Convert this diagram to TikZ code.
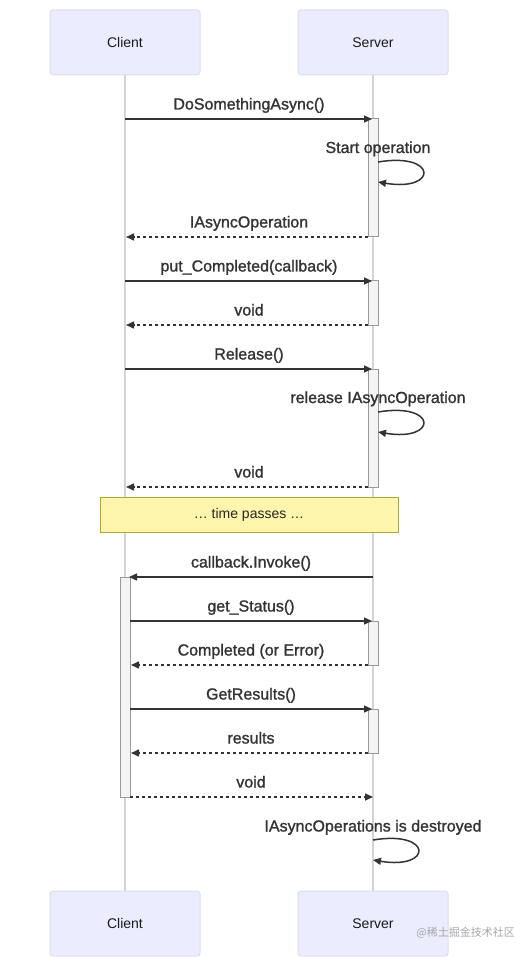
\documentclass[tikz,border=0pt]{standalone}
\usepackage{fontspec}
\setmainfont{Liberation Sans}
\newfontfamily\msgfont{Liberation Sans}[FakeBold=1.3]
\newfontfamily\cjk{Noto Sans CJK SC}
\usetikzlibrary{arrows.meta}
\definecolor{actfill}{HTML}{ECECFF}
\definecolor{actline}{HTML}{DCDCF2}
\definecolor{lifecol}{HTML}{D4D4D4}
\definecolor{msgcol}{HTML}{333333}
\definecolor{actvfill}{HTML}{F4F4F4}
\definecolor{actvline}{HTML}{999999}
\definecolor{notefill}{HTML}{FFF5AD}
\definecolor{noteline}{HTML}{AAAA33}
\tikzset{
  actor/.style={draw=actline, fill=actfill, line width=1pt, rounded corners=3pt,
    minimum width=150pt, minimum height=65pt, inner sep=0pt,
    font=\fontsize{14}{16}\selectfont, text=black!90},
  lifeline/.style={draw=lifecol, line width=1.5pt},
  msg/.style={draw=msgcol, line width=1.5pt, -{Triangle[length=8pt,width=7pt]}},
  ret/.style={msg, dash pattern=on 3pt off 3pt},
  lbl/.style={font=\msgfont\fontsize{16}{19}\selectfont, text=msgcol, anchor=base, inner sep=0pt},
  activ/.style={draw=actvline, fill=actvfill, line width=1pt},
  notebox/.style={draw=noteline, fill=notefill, line width=1pt, minimum width=298pt,
    minimum height=35pt, inner sep=0pt, font=\fontsize{14}{16}\selectfont, text=black!85},
}
\begin{document}
\begin{tikzpicture}[x=1pt,y=-1pt]
\useasboundingbox (0,0) rectangle (531,957);
% actors
\node[actor] (ct) at (125,42.5) {Client};
\node[actor] (st) at (373,42.5) {Server};
\node[actor] (cb) at (125,923.5) {Client};
\node[actor] (sb) at (373,923.5) {Server};
\draw[lifeline] (ct.south) -- (cb.north);
\draw[lifeline] (st.south) -- (sb.north);
% activations
\draw[activ] (368,119) rectangle (378,237);
\draw[activ] (368,281) rectangle (378,325);
\draw[activ] (368,369) rectangle (378,487);
\draw[activ] (120,577) rectangle (130,797);
\draw[activ] (368,621) rectangle (378,665);
\draw[activ] (368,709) rectangle (378,753);
% message endpoints
\coordinate (c1) at (125,119); \coordinate (s1) at (372,119);
\coordinate (s2) at (368,237); \coordinate (c2) at (126,237);
\coordinate (c3) at (125,281); \coordinate (s3) at (372,281);
\coordinate (s4) at (368,325); \coordinate (c4) at (126,325);
\coordinate (c5) at (125,369); \coordinate (s5) at (372,369);
\coordinate (s6) at (368,487); \coordinate (c6) at (126,487);
\coordinate (s7) at (373,577); \coordinate (c7) at (129,577);
\coordinate (c8) at (130,621); \coordinate (s8) at (372,621);
\coordinate (s9) at (368,665); \coordinate (c9) at (131,665);
\coordinate (c10) at (130,709); \coordinate (s10) at (372,709);
\coordinate (s11) at (368,753); \coordinate (c11) at (131,753);
\coordinate (c12) at (130,797); \coordinate (s12) at (373,797);
% messages
\draw[msg] (c1) -- (s1);
\node[lbl] (m1) at (249,109.5) {DoSomethingAsync()};
\coordinate (l1s) at (378,162); \coordinate (l1e) at (378,182);
\node[lbl] (m2) at (378,153) {Start operation};
\draw[msg] (l1s) .. controls +(60,-10) and +(60,10) .. (l1e);
\draw[ret] (s2) -- (c2);
\node[lbl] (m3) at (249,227.5) {IAsyncOperation};
\draw[msg] (c3) -- (s3);
\node[lbl] (m4) at (249,271.5) {put\_Completed(callback)};
\draw[ret] (s4) -- (c4);
\node[lbl] (m5) at (249,315.5) {void};
\draw[msg] (c5) -- (s5);
\node[lbl] (m6) at (249,359.5) {Release()};
\coordinate (l2s) at (378,412); \coordinate (l2e) at (378,432);
\node[lbl] (m7) at (378,403) {release IAsyncOperation};
\draw[msg] (l2s) .. controls +(60,-10) and +(60,10) .. (l2e);
\draw[ret] (s6) -- (c6);
\node[lbl] (m8) at (249,477.5) {void};
% note
\node[notebox] (note) at (249,514.5) {\ldots{} time passes \ldots};
% second part
\draw[msg] (s7) -- (c7);
\node[lbl] (m9) at (251,567.5) {callback.Invoke()};
\draw[msg] (c8) -- (s8);
\node[lbl] (m10) at (251,611.5) {get\_Status()};
\draw[ret] (s9) -- (c9);
\node[lbl] (m11) at (251,655.5) {Completed (or Error)};
\draw[msg] (c10) -- (s10);
\node[lbl] (m12) at (251,699.5) {GetResults()};
\draw[ret] (s11) -- (c11);
\node[lbl] (m13) at (251,743.5) {results};
\draw[ret] (c12) -- (s12);
\node[lbl] (m14) at (251,787.5) {void};
\coordinate (l3s) at (373,840); \coordinate (l3e) at (373,860);
\node[lbl] (m15) at (373,831.5) {IAsyncOperations is destroyed};
\draw[msg] (l3s) .. controls +(60,-10) and +(60,10) .. (l3e);
% watermark
\node[font=\cjk\fontsize{11}{13}\selectfont, text=black!35, anchor=east, inner sep=0pt] (wm) at (515,933) {@稀土掘金技术社区};
\end{tikzpicture}
\end{document}
